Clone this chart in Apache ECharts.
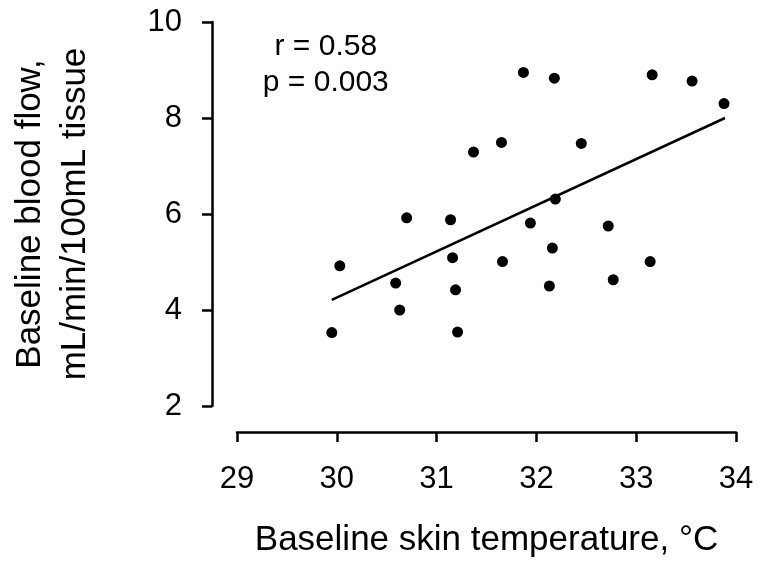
<!DOCTYPE html>
<html>
<head>
<meta charset="utf-8">
<script src="https://cdn.jsdelivr.net/npm/echarts@6/dist/echarts.min.js"></script>
<style>
html,body{margin:0;padding:0;background:#fff;}
#chart{width:759px;height:565px;}
</style>
</head>
<body>
<div id="chart"></div>
<script>
// Baseline skin temperature (°C)
var skinTemp = [30.03, 29.95, 30.70, 30.59, 30.63, 31.14, 31.16, 31.19, 31.21, 31.37, 31.65, 31.87, 32.18, 32.45, 33.16, 33.56, 33.88, 32.19, 31.94, 32.72, 32.16, 31.66, 33.14, 32.13, 32.77];
// Baseline blood flow (mL/min/100mL tissue)
var bloodFlow = [4.92, 3.53, 5.92, 4.56, 4.00, 5.88, 5.09, 4.42, 3.54, 7.29, 7.49, 8.95, 8.83, 7.47, 8.90, 8.77, 8.30, 6.31, 5.81, 5.75, 5.29, 5.01, 5.01, 4.50, 4.63];
// Regression line endpoints as drawn
var fitX = [29.95, 33.89];
var fitY = [4.21, 8.00];
var xTicks = [29, 30, 31, 32, 33, 34];
var yTicks = [2, 4, 6, 8, 10];
var annotation = ['r = 0.58', 'p = 0.003'];
var annotationAt = [29.89, 9.12];

var FONT = "'Liberation Sans', Arial, Helvetica, sans-serif";
var points = skinTemp.map(function (t, i) { return [t, bloodFlow[i]]; });
var fitLine = fitX.map(function (x, i) { return [x, fitY[i]]; });

var chart = echarts.init(document.getElementById('chart'), null, {renderer: 'canvas'});
var axisCommon = {
  axisLine: {show: true, onZero: false, lineStyle: {color: '#000', width: 2.5}},
  axisTick: {show: true, length: 10, lineStyle: {color: '#000', width: 2.5}},
  splitLine: {show: false}
};
chart.setOption({
  animation: false,
  backgroundColor: '#fff',
  grid: {left: 237, right: 23, top: 22, bottom: 159, containLabel: false},
  xAxis: Object.assign({}, axisCommon, {
    type: 'value',
    min: xTicks[0], max: xTicks[xTicks.length - 1], interval: 1,
    offset: 26,
    name: 'Baseline skin temperature, °C',
    nameLocation: 'middle',
    nameGap: 91,
    nameTextStyle: {fontFamily: FONT, fontSize: 35, color: '#000'},
    axisLabel: {margin: 32, fontFamily: FONT, fontSize: 31, color: '#000'}
  }),
  yAxis: Object.assign({}, axisCommon, {
    type: 'value',
    min: yTicks[0], max: yTicks[yTicks.length - 1], interval: 2,
    offset: 25,
    name: 'Baseline blood flow,\nmL/min/100mL tissue',
    nameLocation: 'middle',
    nameRotate: 90,
    nameGap: 114,
    nameTextStyle: {fontFamily: FONT, fontSize: 35, color: '#000', lineHeight: 45},
    axisLabel: {margin: 30, fontFamily: FONT, fontSize: 31, color: '#000'}
  }),
  series: [
    {
      type: 'scatter',
      data: points,
      symbol: 'circle',
      symbolSize: 11,
      itemStyle: {color: '#000', opacity: 1},
      z: 3
    },
    {
      type: 'line',
      data: fitLine,
      symbol: 'none',
      lineStyle: {color: '#000', width: 2.5},
      z: 2
    }
  ]
});
var p = chart.convertToPixel({gridIndex: 0}, annotationAt);
chart.setOption({
  graphic: [{
    type: 'text',
    x: p[0], y: p[1],
    style: {
      text: annotation.join('\n'),
      font: '30px ' + FONT,
      fill: '#000',
      align: 'center',
      verticalAlign: 'middle',
      lineHeight: 36
    }
  }]
});
</script>
</body>
</html>
